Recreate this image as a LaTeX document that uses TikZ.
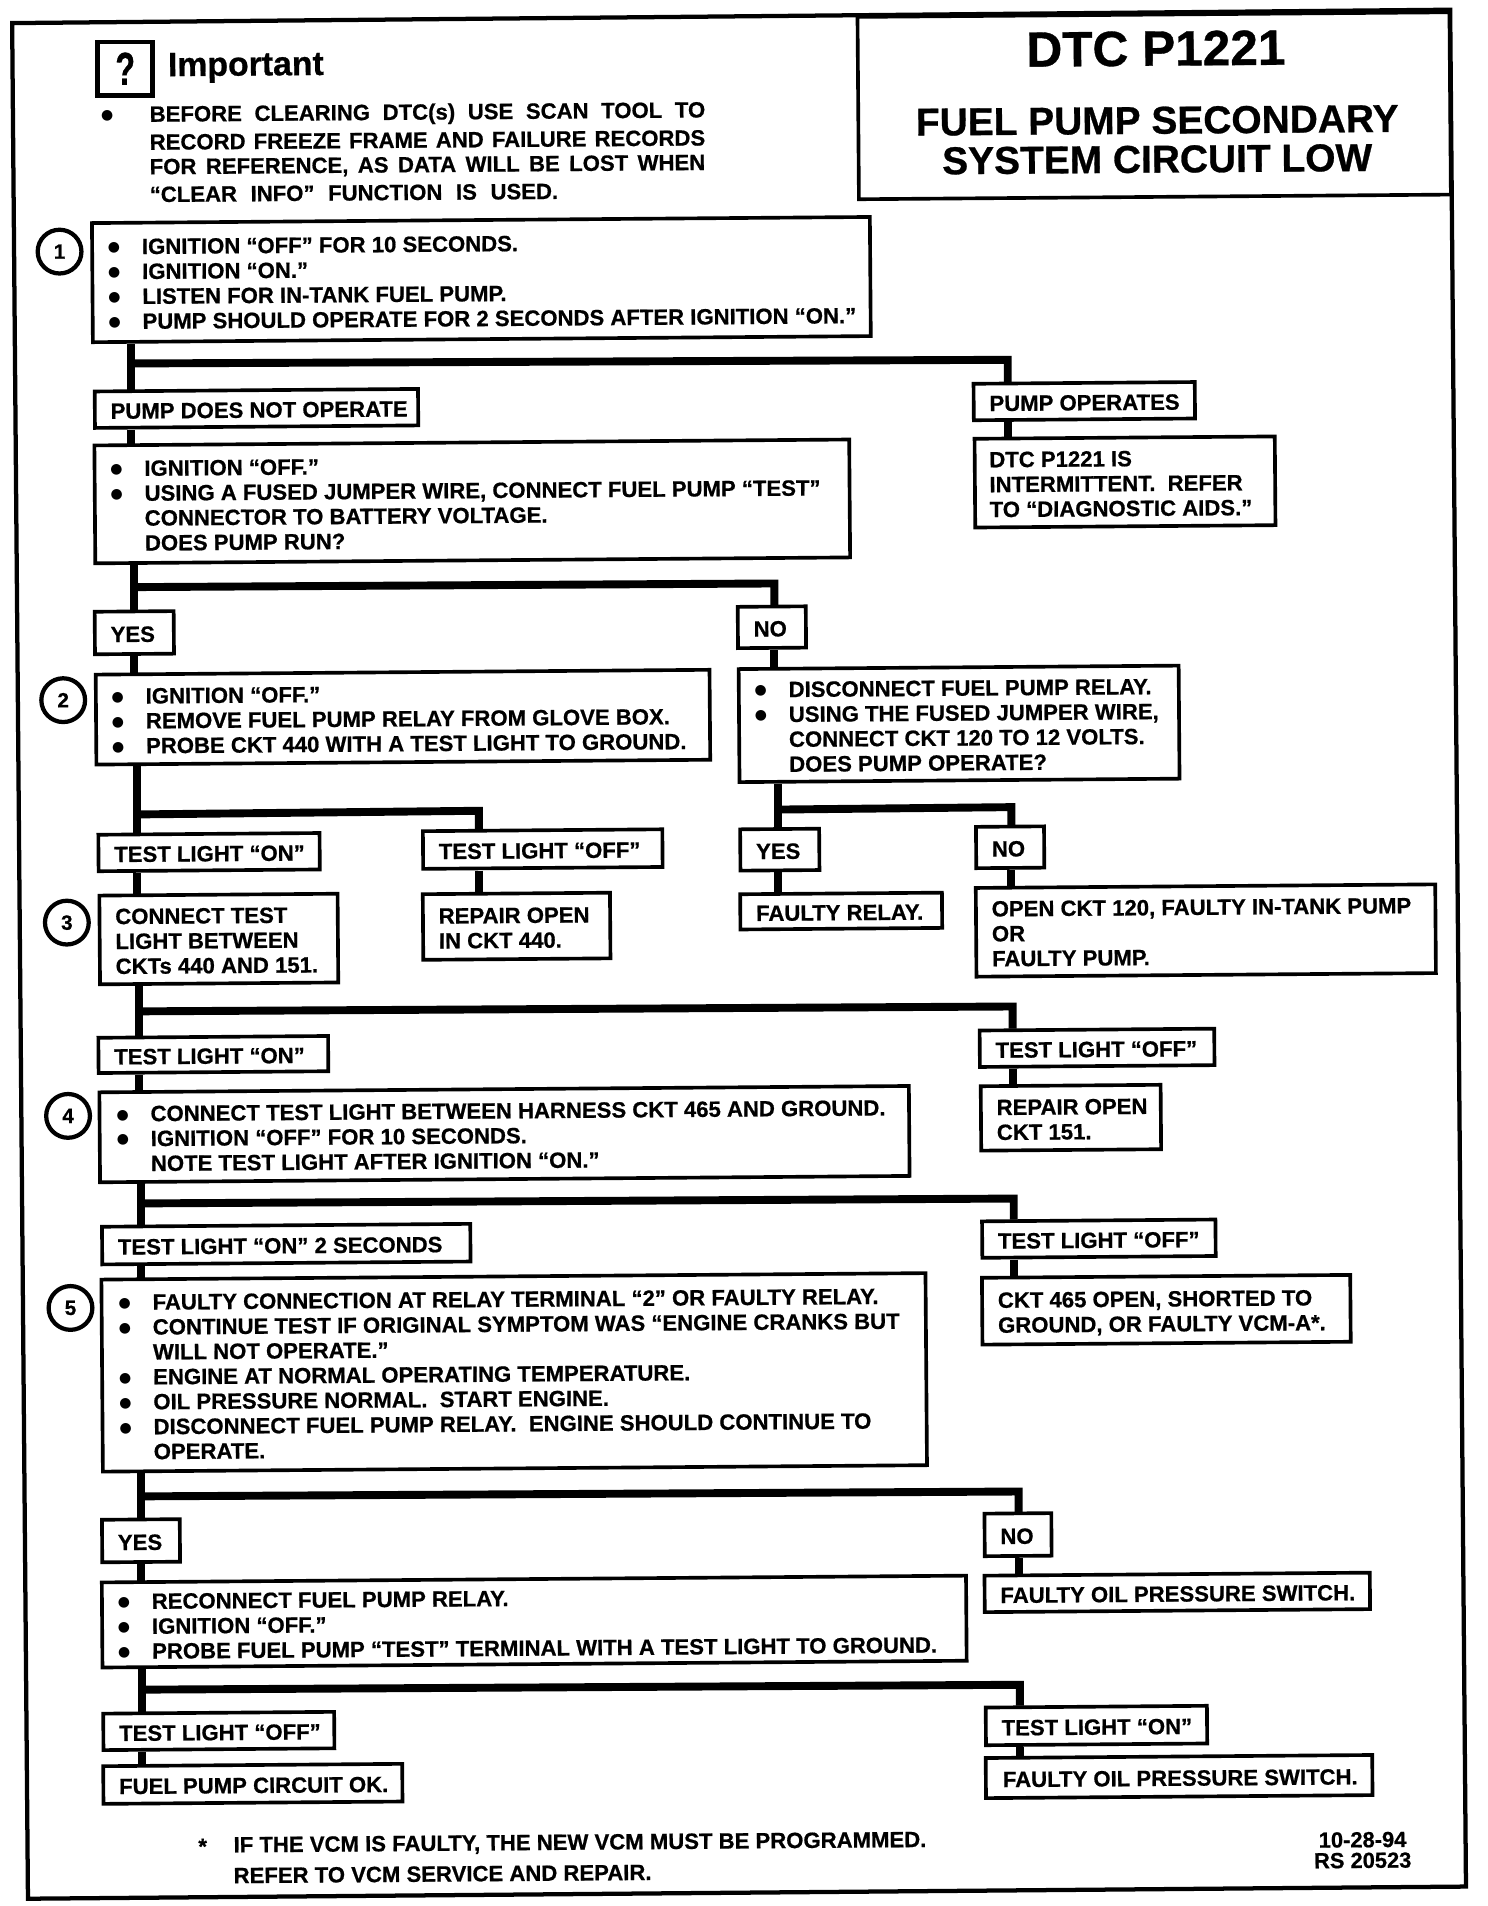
\documentclass[tikz,border=0pt]{standalone}
\usepackage{fontspec}
\setmainfont{Liberation Sans}[BoldFeatures={FakeBold=0.7}]
\newfontfamily\dvfont{DejaVu Sans}
\newlength{\bw}\setlength{\bw}{28pt}
\newcommand{\B}{\makebox[\bw][l]{\raisebox{2pt}{\fontsize{11.5}{11.5}\dvfont ●}}}
\newcommand{\Ind}{\hspace*{\bw}}
\tikzset{
  x=1pt,y=-1pt,
  boxed/.style={draw=black,line width=3pt,fill=white,inner sep=0pt,rotate=0.45,
    font=\fontsize{18.2}{20.5}\selectfont\bfseries},
  conn/.style={draw=black,line width=6.5pt},
  numc/.style={draw=black,line width=3.5pt,circle,minimum size=36pt,inner sep=0pt,fill=white,
    font=\fontsize{17}{20}\selectfont\bfseries},
  plain/.style={inner sep=0pt,anchor=west,rotate=0.45,font=\fontsize{18.2}{20.2}\selectfont\bfseries},
  titletext/.style={inner sep=0pt,rotate=0.45,font=\fontsize{32}{32}\selectfont\bfseries},
}
\newcommand{\bx}[7]{%
  \node[boxed,minimum width={#4-#2},minimum height={#5-#3}] (#1) at ({(#2+#4)/2},{(#3+#5)/2})
    {\makebox[\dimexpr #4pt-#2pt\relax][l]{\hspace*{#6pt}\raisebox{-3.5pt}[\height][\depth]{\begin{tabular}{@{}l@{}}#7\end{tabular}}}};}
\begin{document}
\begin{tikzpicture}
\useasboundingbox (0,0) rectangle (1224,1568);
\fill[white] (0,0) rectangle (1224,1568);
% frame
\draw[line width=3.5pt,line join=miter] (10,19) -- (1193,8) -- (1206,1552) -- (23,1562) -- cycle;
% title
\node[draw=black,line width=3pt,minimum width=487pt,minimum height=150pt,rotate=0.45] (titlebox) at (949.5,87) {};
\node[titletext,font=\fontsize{40.8}{40}\selectfont\bfseries] (t1) at (951,40) {DTC P1221};
\node[titletext] (t2) at (952,99) {FUEL PUMP SECONDARY};
\node[titletext] (t3) at (952,131) {SYSTEM CIRCUIT LOW};
% important
\node[draw=black,line width=4pt,minimum width=45pt,minimum height=44pt,inner sep=0pt,
  font=\fontsize{38}{38}\selectfont\bfseries] (icon) at (103,56.5) {\scalebox{0.7}[1]{?}};
\node[plain,font=\fontsize{27.8}{27}\selectfont\bfseries] (imp) at (138,56) {Important};
\node[plain] (nb) at (83,95) {\fontsize{11.5}{11.5}\dvfont ●};
\node[plain] (n1) at (123,95.5) {\makebox[457pt][s]{BEFORE CLEARING DTC(s) USE SCAN TOOL TO}};
\node[plain] (n2) at (123,117) {\makebox[457pt][s]{RECORD FREEZE FRAME AND FAILURE RECORDS}};
\node[plain] (n3) at (123,138.5) {\makebox[457pt][s]{FOR REFERENCE, AS DATA WILL BE LOST WHEN}};
\node[plain] (n4) at (123,160) {\makebox[336pt][s]{“CLEAR INFO” FUNCTION IS USED.}};
% step circles
\node[numc] (c1) at (49,207) {1};
\node[numc] (c2) at (52,576) {2};
\node[numc] (c3) at (55,759) {3};
\node[numc] (c4) at (56,918) {4};
\node[numc] (c5) at (58,1076) {5};
% boxes
\bx{b1}{76}{181}{716}{279}{13}{\B IGNITION “OFF” FOR 10 SECONDS.\\\B IGNITION “ON.”\\\B LISTEN FOR IN-TANK FUEL PUMP.\\\B PUMP SHOULD OPERATE FOR 2 SECONDS AFTER IGNITION “ON.”}
\bx{pno}{78}{321}{344}{351}{13}{PUMP DOES NOT OPERATE}
\bx{pop}{801}{315}{983}{345}{13}{PUMP OPERATES}
\bx{intm}{802}{360}{1049}{433}{12}{DTC P1221 IS\\INTERMITTENT.\ \ REFER\\TO “DIAGNOSTIC AIDS.”}
\bx{b1a}{78}{364}{699}{461}{13}{\B IGNITION “OFF.”\\\B USING A FUSED JUMPER WIRE, CONNECT FUEL PUMP “TEST”\\\Ind CONNECTOR TO BATTERY VOLTAGE.\\\Ind DOES PUMP RUN?}
\bx{y1}{78}{503}{143}{538}{13}{YES}
\bx{n1b}{607}{499}{663}{533}{13}{NO}
\bx{b2}{79}{553}{584}{627}{13}{\B IGNITION “OFF.”\\\B REMOVE FUEL PUMP RELAY FROM GLOVE BOX.\\\B PROBE CKT 440 WITH A TEST LIGHT TO GROUND.}
\bx{nb1}{608}{549}{970}{642}{13}{\B DISCONNECT FUEL PUMP RELAY.\\\B USING THE FUSED JUMPER WIRE,\\\Ind CONNECT CKT 120 TO 12 VOLTS.\\\Ind DOES PUMP OPERATE?}
\bx{on1}{81}{686}{263}{716}{13}{TEST LIGHT “ON”}
\bx{off1}{348}{683}{545}{714}{13}{TEST LIGHT “OFF”}
\bx{y2}{609}{682}{674}{716}{13}{YES}
\bx{n2b}{803}{680}{859}{714}{13}{NO}
\bx{frel}{609}{735}{775}{764}{13}{FAULTY RELAY.}
\bx{open}{803}{729}{1181}{802}{13}{OPEN CKT 120, FAULTY IN-TANK PUMP\\OR\\FAULTY PUMP.}
\bx{b3}{82}{736}{278}{809}{13}{CONNECT TEST\\LIGHT BETWEEN\\CKTs 440 AND 151.}
\bx{r440}{348}{735}{502}{789}{13}{REPAIR OPEN\\IN CKT 440.}
\bx{on2}{81}{853}{270}{882}{13}{TEST LIGHT “ON”}
\bx{off2}{806}{847}{999}{877}{13}{TEST LIGHT “OFF”}
\bx{r151}{807}{893}{955}{946}{13}{REPAIR OPEN\\CKT 151.}
\bx{b4}{82}{896}{748}{970}{14}{\B CONNECT TEST LIGHT BETWEEN HARNESS CKT 465 AND GROUND.\\\B IGNITION “OFF” FOR 10 SECONDS.\\\Ind NOTE TEST LIGHT AFTER IGNITION “ON.”}
\bx{on3}{84}{1008}{387}{1039}{13}{TEST LIGHT “ON” 2 SECONDS}
\bx{off3}{808}{1004}{1000}{1034}{13}{TEST LIGHT “OFF”}
\bx{c465}{808}{1050}{1111}{1105}{13}{CKT 465 OPEN, SHORTED TO\\GROUND, OR FAULTY VCM-A*.}
\bx{b5}{84}{1050}{762}{1208}{14}{\B FAULTY CONNECTION AT RELAY TERMINAL “2” OR FAULTY RELAY.\\\B CONTINUE TEST IF ORIGINAL SYMPTOM WAS “ENGINE CRANKS BUT\\\Ind WILL NOT OPERATE.”\\\B ENGINE AT NORMAL OPERATING TEMPERATURE.\\\B OIL PRESSURE NORMAL.\ \ START ENGINE.\\\B DISCONNECT FUEL PUMP RELAY.\ \ ENGINE SHOULD CONTINUE TO\\\Ind OPERATE.}
\bx{y3}{84}{1250}{148}{1285}{13}{YES}
\bx{n3b}{810}{1245}{865}{1280}{13}{NO}
\bx{foil1}{810}{1295}{1127}{1325}{13}{FAULTY OIL PRESSURE SWITCH.}
\bx{b6}{84}{1299}{795}{1369}{13}{\B RECONNECT FUEL PUMP RELAY.\\\B IGNITION “OFF.”\\\B PROBE FUEL PUMP “TEST” TERMINAL WITH A TEST LIGHT TO GROUND.}
\bx{off4}{85}{1409}{275}{1439}{13}{TEST LIGHT “OFF”}
\bx{on4}{811}{1404}{993}{1435}{13}{TEST LIGHT “ON”}
\bx{fpok}{85}{1452}{331}{1483}{13}{FUEL PUMP CIRCUIT OK.}
\bx{foil2}{811}{1445}{1129}{1478}{14}{FAULTY OIL PRESSURE SWITCH.}
% footnote
\node[plain] (fs) at (163,1519) {*};
\node[plain] (f1) at (192,1519) {IF THE VCM IS FAULTY, THE NEW VCM MUST BE PROGRAMMED.};
\node[plain] (f2) at (192,1543) {REFER TO VCM SERVICE AND REPAIR.};
\node[inner sep=0pt,rotate=0.45,font=\fontsize{18}{17}\selectfont\bfseries,align=center] (dt) at (1121,1522) {10-28-94\\RS 20523};
% junctions
\coordinate (j1) at (108,299); \coordinate (j1r) at (829,296);
\coordinate (j2) at (110,483); \coordinate (j2r) at (637,480);
\coordinate (j3) at (113,670); \coordinate (j3r) at (394,667);
\coordinate (j4) at (640,666); \coordinate (j4r) at (832,664);
\coordinate (j5) at (114,832); \coordinate (j5r) at (833,828);
\coordinate (j6) at (116,990); \coordinate (j6r) at (834,986);
\coordinate (j7) at (116,1231); \coordinate (j7r) at (838,1227);
\coordinate (j8) at (117,1390); \coordinate (j8r) at (839,1386);
% connectors
\draw[conn] (b1.south west -| j1) -- (pno.north west -| j1);
\draw[conn] (j1) -- (j1r) -- (pop.north west -| j1r);
\draw[conn] (pno.south west -| j1) -- (b1a.north west -| j1);
\draw[conn] (pop.south west -| j1r) -- (intm.north west -| j1r);
\draw[conn] (b1a.south west -| j2) -- (y1.north west -| j2);
\draw[conn] (j2) -- (j2r) -- (n1b.north west -| j2r);
\draw[conn] (y1.south west -| j2) -- (b2.north west -| j2);
\draw[conn] (n1b.south west -| j2r) -- (nb1.north west -| j2r);
\draw[conn] (b2.south west -| j3) -- (on1.north west -| j3);
\draw[conn] (j3) -- (j3r) -- (off1.north west -| j3r);
\draw[conn] (on1.south west -| j3) -- (b3.north west -| j3);
\draw[conn] (off1.south west -| j3r) -- (r440.north west -| j3r);
\draw[conn] (nb1.south west -| j4) -- (y2.north west -| j4);
\draw[conn] (j4) -- (j4r) -- (n2b.north west -| j4r);
\draw[conn] (y2.south west -| j4) -- (frel.north west -| j4);
\draw[conn] (n2b.south west -| j4r) -- (open.north west -| j4r);
\draw[conn] (b3.south west -| j5) -- (on2.north west -| j5);
\draw[conn] (j5) -- (j5r) -- (off2.north west -| j5r);
\draw[conn] (on2.south west -| j5) -- (b4.north west -| j5);
\draw[conn] (off2.south west -| j5r) -- (r151.north west -| j5r);
\draw[conn] (b4.south west -| j6) -- (on3.north west -| j6);
\draw[conn] (j6) -- (j6r) -- (off3.north west -| j6r);
\draw[conn] (on3.south west -| j6) -- (b5.north west -| j6);
\draw[conn] (off3.south west -| j6r) -- (c465.north west -| j6r);
\draw[conn] (b5.south west -| j7) -- (y3.north west -| j7);
\draw[conn] (j7) -- (j7r) -- (n3b.north west -| j7r);
\draw[conn] (y3.south west -| j7) -- (b6.north west -| j7);
\draw[conn] (n3b.south west -| j7r) -- (foil1.north west -| j7r);
\draw[conn] (b6.south west -| j8) -- (off4.north west -| j8);
\draw[conn] (j8) -- (j8r) -- (on4.north west -| j8r);
\draw[conn] (off4.south west -| j8) -- (fpok.north west -| j8);
\draw[conn] (on4.south west -| j8r) -- (foil2.north west -| j8r);
\end{tikzpicture}
\end{document}
